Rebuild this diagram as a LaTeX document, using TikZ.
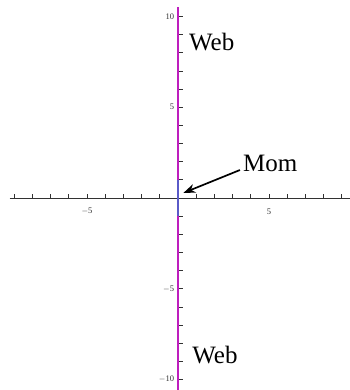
\documentclass[tikz,border=0pt]{standalone}
\usepackage{fontspec}
\setmainfont{Liberation Serif}
\usetikzlibrary{arrows.meta,positioning}
\definecolor{webmagenta}{RGB}{190,30,190}
\definecolor{axisgray}{RGB}{50,50,50}
\definecolor{momblue}{RGB}{90,90,200}

\begin{document}
\begin{tikzpicture}[
  x=18.2pt, y=18.15pt,
  ax/.style={axisgray, line width=0.7pt},
  tk/.style={axisgray, line width=0.7pt},
  ticklbl/.style={font=\fontsize{8.5}{9}\selectfont, text=axisgray, inner sep=1pt},
  lbl/.style={font=\fontsize{25}{28}\selectfont, inner sep=0pt},
  web/.style={webmagenta, line width=1.6pt},
  arr/.style={-{Stealth[length=12pt,width=9pt]}, line width=1.7pt}
]
  \useasboundingbox (-9.78,-10.58) rectangle (9.45,10.91);
  % axes
  \draw[ax] (-9.25,0) -- (9.45,0);
  \draw[ax] (0,-10.58) -- (0,10.5);
  \foreach \i in {-9,...,9}
    \draw[tk] (\i,0) -- ++(0,0.2);
  \foreach \j in {-10,...,10}
    \draw[tk] (0,\j) -- ++(0.25,0);
  % tick labels
  \node[ticklbl] (xm5) at (-5,-0.75) {$-$5};
  \node[ticklbl] (xp5) at (5,-0.75) {5};
  \node[ticklbl, anchor=east] (yp10) at (-0.15,10) {10};
  \node[ticklbl, anchor=east] (yp5) at (-0.15,5) {5};
  \node[ticklbl, anchor=east] (ym5) at (-0.15,-5) {$-$5};
  \node[ticklbl, anchor=east] (ym10) at (-0.15,-10) {$-$10};
  % web line
  \draw[web] (0,-10.58) -- (0,10.5);
  \draw[momblue, line width=1.2pt] (0,-1) -- (0,1);
  % labels
  \node[lbl, anchor=west] (webtop) at (0.6,8.57) {Web};
  \node[lbl, anchor=west] (webbot) at (0.78,-8.65) {Web};
  \node[lbl, anchor=west] (mom) at (3.57,1.9) {Mom};
  \coordinate (momtip) at (0.3,0.28);
  \draw[arr] ([xshift=-3pt,yshift=-6.5pt]mom.west) -- (momtip);
\end{tikzpicture}
\end{document}
